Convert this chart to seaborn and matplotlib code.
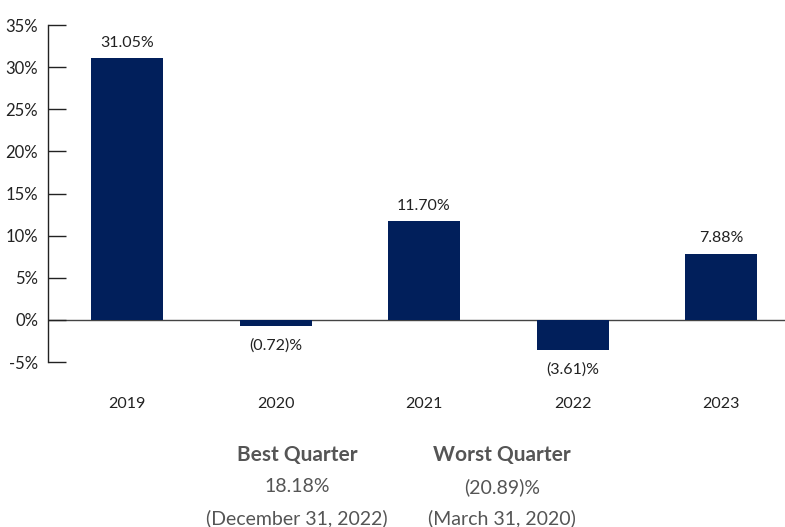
import matplotlib
matplotlib.use("Agg")
import matplotlib.pyplot as plt
import seaborn as sns
import pandas as pd

years = ["2019", "2020", "2021", "2022", "2023"]
returns = [31.05, -0.72, 11.70, -3.61, 7.88]
yticks = [-5, 0, 5, 10, 15, 20, 25, 30, 35]

best_q = "18.18%"
best_date = "(December 31, 2022)"
worst_q = "(20.89)%"
worst_date = "(March 31, 2020)"

sns.set_style("white")
plt.rcParams["font.family"] = ["Lato", "DejaVu Sans"]

df = pd.DataFrame({"year": years, "ret": returns})

fig = plt.figure(figsize=(7.85, 5.27), dpi=100)
ax = fig.add_axes([0.0611, 0.313, 0.9389, 0.6395])

sns.barplot(data=df, x="year", y="ret", color="#011f5b", width=0.485,
            saturation=1, linewidth=0, ax=ax)

ax.set_ylim(-5, 35)
ax.set_xlim(-0.532, 4.43)
ax.set_yticks(yticks)
ax.set_yticklabels([f"{t}%" for t in yticks], fontsize=12, color="#222222")
ax.tick_params(axis="y", left=True, direction="in", length=13, width=1,
               color="#222222", pad=7)
ax.tick_params(axis="x", length=0, pad=25, labelsize=11.5, labelcolor="#222222")
ax.set_xlabel("")
ax.set_ylabel("")

for s in ["top", "right", "bottom"]:
    ax.spines[s].set_visible(False)
ax.spines["left"].set_color("#222222")
ax.spines["left"].set_linewidth(1)

ax.axhline(0, color="#444444", lw=1, zorder=0)

for i, v in enumerate(returns):
    if v >= 0:
        txt = f"{v:.2f}%"
        off = 11
    else:
        txt = f"({abs(v):.2f})%"
        off = -14
    ax.annotate(txt, (i, v), xytext=(0, off), textcoords="offset points",
                ha="center", va="center", fontsize=11.5, color="#222222")

gray = "#555555"
fig.text(297 / 785, 1 - 455 / 527, "Best Quarter", ha="center", va="center",
         fontsize=15, fontweight="bold", color=gray)
fig.text(297 / 785, 1 - 487 / 527, best_q, ha="center", va="center",
         fontsize=14, color=gray)
fig.text(297 / 785, 1 - 518 / 527, best_date, ha="center", va="center",
         fontsize=14, color=gray)
fig.text(502 / 785, 1 - 455 / 527, "Worst Quarter", ha="center", va="center",
         fontsize=15, fontweight="bold", color=gray)
fig.text(502 / 785, 1 - 487 / 527, worst_q, ha="center", va="center",
         fontsize=14, color=gray)
fig.text(502 / 785, 1 - 518 / 527, worst_date, ha="center", va="center",
         fontsize=14, color=gray)

fig.savefig("out.png", dpi=100)
